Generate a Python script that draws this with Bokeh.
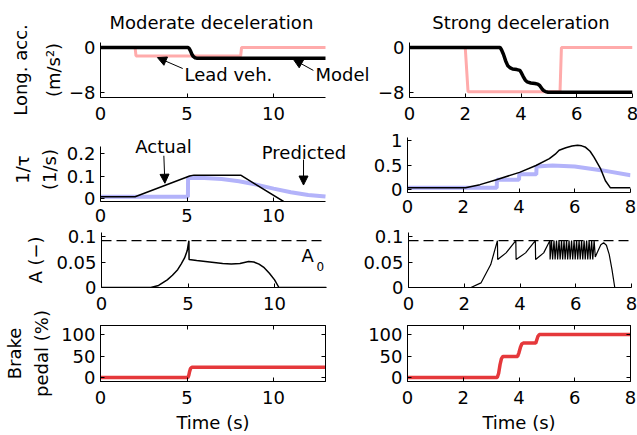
from bokeh.plotting import figure
from bokeh.layouts import column, row
from bokeh.models import (Range1d, FixedTicker, LinearAxis, Label, Arrow,
                          NormalHead, Span, CustomJSTickFormatter)
from bokeh.embed import file_html
from bokeh.resources import INLINE

# ---------------- data ----------------
col_titles = ["Moderate deceleration", "Strong deceleration"]

# Row 1: longitudinal acceleration (m/s^2)
t_lead_mod = [0, 2.0, 2.05, 8.1, 8.15, 13]
acc_lead_mod = [0, 0, -1.5, -1.5, 0, 0]
t_model_mod = [0, 5.05, 5.12, 5.2, 5.28, 5.36, 5.45, 5.55, 13]
acc_model_mod = [0, 0, -0.15, -0.6, -1.2, -1.6, -1.82, -1.9, -1.9]

t_lead_str = [0, 2.0, 2.1, 5.4, 5.45, 8]
acc_lead_str = [0, 0, -7.9, -7.9, 0, 0]
t_model_str = [0, 3.25, 3.3, 3.37, 3.45, 3.52, 3.6, 3.7, 3.85, 3.96, 4.02,
               4.08, 4.15, 4.22, 4.35, 4.5, 4.6, 4.67, 4.74, 4.8, 4.88, 4.97, 8]
acc_model_str = [0, 0, -0.4, -1.2, -2.4, -3.2, -3.6, -3.85, -3.95, -4.1, -4.6,
                 -5.2, -5.8, -6.15, -6.35, -6.45, -6.55, -6.8, -7.3, -7.65, -7.9, -8.0, -8.0]

# Row 2: 1/tau (1/s)
t_act_mod = [0, 2.0, 5.15, 5.4, 8.1, 10.6]
inv_tau_act_mod = [0.008, 0.008, 0.1, 0.104, 0.104, -0.014]
t_pred_mod = [0, 5.05, 5.06, 6.0, 7.0, 8.0, 9.0, 10.0, 11.0, 12.0, 13.0]
inv_tau_pred_mod = [0.008, 0.008, 0.092, 0.091, 0.087, 0.077, 0.062, 0.044, 0.028, 0.016, 0.009]

t_act_str = [0, 2.08, 2.6, 3.19, 4.02, 4.61, 5.09, 5.3, 5.44, 5.68, 5.9, 6.1,
             6.25, 6.39, 6.55, 6.69, 6.93, 7.1, 7.28, 8]
inv_tau_act_str = [0.035, 0.035, 0.1, 0.2, 0.35, 0.49, 0.63, 0.72, 0.8, 0.85, 0.885, 0.9,
                   0.89, 0.86, 0.78, 0.66, 0.42, 0.18, 0.035, 0.035]
t_pred_str = [0, 3.2, 3.21, 4.0, 4.01, 4.62, 4.63, 5.2, 6.0, 7.0, 8.0]
inv_tau_pred_str = [0.035, 0.035, 0.2, 0.2, 0.31, 0.31, 0.47, 0.49, 0.47, 0.39, 0.29]

# Row 3: A (-)
A0 = 0.092
t_A_mod = [0, 2.85, 3.3, 3.8, 4.1, 4.4, 4.6, 4.8, 4.95, 5.05, 5.06, 5.5, 6.0, 6.5,
           7.0, 7.5, 8.0, 8.5, 8.8, 9.1, 9.4, 9.7, 10.0, 10.25, 13]
A_mod = [0, 0, 0.004, 0.015, 0.024, 0.035, 0.046, 0.058, 0.072, 0.092, 0.055, 0.053,
         0.051, 0.049, 0.047, 0.046, 0.047, 0.051, 0.050, 0.046, 0.039, 0.028, 0.015, 0, 0]

t_A_str = [0, 2.24, 2.6, 2.95, 3.19, 3.2, 3.5, 3.85, 3.86, 4.2, 4.55, 4.56, 4.85, 5.07,
           5.08, 5.13, 5.17, 5.22, 5.26, 5.31, 5.35, 5.40, 5.44, 5.49, 5.53, 5.58,
           5.62, 5.67, 5.71, 5.76, 5.80, 5.85, 5.89, 5.94, 5.98, 6.03, 6.07, 6.12,
           6.16, 6.21, 6.25, 6.30, 6.34, 6.39, 6.43, 6.48, 6.52, 6.57, 6.61, 6.66,
           6.70, 6.8, 6.9, 7.0, 7.1, 7.2, 7.3, 7.4, 8]
A_str = [0, 0, 0.009, 0.045, 0.092, 0.055, 0.068, 0.092, 0.055, 0.068, 0.092, 0.055, 0.068, 0.092,
         0.055, 0.092, 0.055, 0.092, 0.055, 0.092, 0.055, 0.092, 0.055, 0.092, 0.055, 0.092,
         0.055, 0.092, 0.055, 0.092, 0.055, 0.092, 0.055, 0.092, 0.055, 0.092, 0.055, 0.092,
         0.055, 0.092, 0.055, 0.092, 0.055, 0.092, 0.055, 0.092, 0.055, 0.092, 0.055, 0.092,
         0.06, 0.072, 0.084, 0.088, 0.083, 0.065, 0.035, 0, 0]

# Row 4: brake pedal (%)
t_brake_mod = [0, 5.05, 5.1, 5.15, 5.2, 5.28, 13]
brake_mod = [0, 0, 5, 14, 21, 24, 24]
t_brake_str = [0, 3.22, 3.27, 3.32, 3.37, 3.42, 3.95, 4.0, 4.05, 4.1, 4.15, 4.6, 4.64,
               4.68, 4.73, 8]
brake_str = [0, 0, 10, 30, 44, 49, 49, 58, 70, 78, 80, 80, 88, 96, 100, 100]

# ticks
x_ticks_mod = [0, 5, 10]
x_labels_mod = ["0", "5", "10"]
x_ticks_str = [0, 2, 4, 6, 8]
x_labels_str = ["0", "2", "4", "6", "8"]
acc_ticks = [-8, 0]
acc_labels = ["\u22128", "0"]
tau_ticks_mod = [0, 0.1, 0.2]
tau_labels_mod = ["0", "0.1", "0.2"]
tau_ticks_str = [0, 0.5, 1]
tau_labels_str = ["0", "0.5", "1"]
A_ticks = [0, 0.05, 0.1]
A_labels = ["0", "0.05", "0.1"]
brake_ticks = [0, 50, 100]
brake_labels = ["0", "50", "100"]

# ---------------- styling ----------------
FONT = "DejaVu Sans"
FS = "18px"
PINK = "#ffabab"
LAVENDER = "#b3b3fa"
RED = "#e5383b"

XMAX_MOD, XMAX_STR = 13, 8
FW1 = 225                  # visible axis length (px), left column
FW2 = 223                  # right column
PX_MOD = FW1 / XMAX_MOD    # px per second, left column


def style_axis(ax, ticks, labels, standoff):
    ax.ticker = FixedTicker(ticks=ticks)
    ax.major_label_overrides = dict(zip(ticks, labels))
    ax.axis_line_color = "black"
    ax.axis_line_width = 1
    ax.major_tick_line_color = "black"
    ax.major_tick_in = 4
    ax.major_tick_out = 0
    ax.minor_tick_line_color = None
    ax.major_label_text_font = FONT
    ax.major_label_text_font_size = FS
    ax.major_label_text_color = "black"
    ax.major_label_standoff = standoff
    ax.axis_label_text_font = FONT
    ax.axis_label_text_font_size = FS
    ax.axis_label_text_font_style = "normal"
    ax.axis_label_text_color = "black"
    ax.axis_label_standoff = 5


def make_fig(xr, yr, fw, fh, bl, br, bt, bb, xt, xl, yt, yl, xstand=9,
             ylabel=None, xlabel=None, title=None, box=False, xbounds=None, ybounds=None):
    p = figure(x_range=Range1d(*xr), y_range=Range1d(*yr),
               frame_width=fw, frame_height=fh,
               min_border_left=bl, min_border_right=br,
               min_border_top=bt, min_border_bottom=bb,
               output_backend="svg", toolbar_location=None, tools="")
    p.background_fill_color = "white"
    p.border_fill_color = "white"
    p.xgrid.visible = False
    p.ygrid.visible = False
    p.outline_line_color = "black" if box else None
    style_axis(p.xaxis[0], xt, xl, xstand)
    style_axis(p.yaxis[0], yt, yl, 5)
    if xbounds:
        p.xaxis[0].bounds = xbounds
    if ybounds:
        p.yaxis[0].bounds = ybounds
    if ylabel:
        p.yaxis[0].axis_label = ylabel
    if xlabel:
        p.xaxis[0].axis_label = xlabel
    if title:
        p.title.text = title
        p.title.text_font = FONT
        p.title.text_font_size = FS
        p.title.text_font_style = "normal"
        p.title.text_color = "black"
        p.title.standoff = 19
    if box:
        blank = CustomJSTickFormatter(code="return ''")
        for loc, t in (("above", xt), ("right", yt)):
            a = LinearAxis(ticker=FixedTicker(ticks=t), formatter=blank,
                           axis_line_color="black", major_tick_in=4, major_tick_out=0,
                           major_tick_line_color="black", minor_tick_line_color=None,
                           major_label_standoff=0, major_label_text_font_size="1px")
            p.add_layout(a, loc)
    return p


def label(p, x, y, text, size=FS, align="left", angle=0):
    p.add_layout(Label(x=x, y=y, text=text, text_font=FONT, text_font_size=size,
                       text_color="black", text_baseline="middle", text_align=align,
                       angle=angle, angle_units="deg"))


def arrow(p, x0, y0, x1, y1):
    p.add_layout(Arrow(end=NormalHead(size=9, fill_color="black", line_color="black"),
                       x_start=x0, y_start=y0, x_end=x1, y_end=y1,
                       line_color="black", line_width=1))


# ---------------- Row 1 ----------------
EXT1 = 49   # extra frame room on the right for the "Model" text
YR1 = (-8.95, 0.9)
p11 = make_fig((0, XMAX_MOD + EXT1 / PX_MOD), YR1, FW1 + EXT1, 55, 100, 0, 42, 31,
               x_ticks_mod, x_labels_mod, acc_ticks, acc_labels,
               ylabel="Long. acc.\n(m/s\u00b2)", title=col_titles[0], xbounds=(0, XMAX_MOD))
p11.title.align = "left"
p11.title.offset = 9
p11.yaxis[0].axis_label_text_line_height = 1.55
p11.yaxis[0].axis_label_standoff = 2
p11.line(t_lead_mod, acc_lead_mod, line_color=PINK, line_width=3)
p11.line(t_model_mod, acc_model_mod, line_color="black", line_width=3.5)
arrow(p11, 4.75, -3.76, 3.29, -1.8)
label(p11, 4.85, -4.8, "Lead veh.")
arrow(p11, 12.3, -4.1, 11.15, -2.15)
label(p11, 12.42, -4.8, "Model")

p12 = make_fig((0, XMAX_STR), YR1, FW2, 55, 33, 7, 42, 31, x_ticks_str, x_labels_str,
               acc_ticks, acc_labels, title=col_titles[1])
p12.title.align = "center"
p12.line(t_lead_str, acc_lead_str, line_color=PINK, line_width=3)
p12.line(t_model_str, acc_model_str, line_color="black", line_width=3.5)

# ---------------- Row 2 ----------------
EXT2 = 25   # extra frame room on the right for "Predicted"
UP2 = 9     # extra frame room on top for "Actual"
Y0_2, Y1_2 = -0.013, 0.231
p21 = make_fig((0, XMAX_MOD + EXT2 / PX_MOD), (Y0_2, Y1_2 + UP2 * (Y1_2 - Y0_2) / 55),
               FW1 + EXT2, 55 + UP2, 100, 0, 0, 32, x_ticks_mod, x_labels_mod,
               tau_ticks_mod, tau_labels_mod, xstand=7, ylabel="1/\u03c4\n(1/s)",
               xbounds=(0, XMAX_MOD), ybounds=(Y0_2, Y1_2))
p21.yaxis[0].axis_label_text_line_height = 1.3
p21.yaxis[0].axis_label_standoff = 4
p21.line(t_pred_mod, inv_tau_pred_mod, line_color=LAVENDER, line_width=4)
p21.line(t_act_mod, inv_tau_act_mod, line_color="black", line_width=1.5)
label(p21, 3.64, 0.233, "Actual", align="center")
arrow(p21, 3.66, 0.19, 3.72, 0.068)
label(p21, 11.76, 0.204, "Predicted", align="center")
arrow(p21, 11.73, 0.173, 11.73, 0.06)

p22 = make_fig((0, XMAX_STR), (-0.06, 1.06), FW2, 55, 57, 7, 9, 32, x_ticks_str, x_labels_str,
               tau_ticks_str, tau_labels_str, xstand=7)
p22.line(t_pred_str, inv_tau_pred_str, line_color=LAVENDER, line_width=4)
p22.line(t_act_str, inv_tau_act_str, line_color="black", line_width=1.5)

# ---------------- Row 3 ----------------
YR3 = (0, 0.108)
p31 = make_fig((0, XMAX_MOD), YR3, FW1, 55, 47, 10, 8, 32, x_ticks_mod, x_labels_mod,
               A_ticks, A_labels)
p31.add_layout(Span(location=A0, dimension="width", line_color="black",
                    line_width=1.2, line_dash="10 5"))
p31.line(t_A_mod, A_mod, line_color="black", line_width=1.5)
label(p31, 11.55, 0.062, "A")
label(p31, 12.42, 0.0415, "0", size="12px")

p32 = make_fig((0, XMAX_STR), YR3, FW2, 55, 72, 7, 8, 32, x_ticks_str, x_labels_str,
               A_ticks, A_labels)
p32.add_layout(Span(location=A0, dimension="width", line_color="black",
                    line_width=1.2, line_dash="10 5"))
p32.line(t_A_str, A_str, line_color="black", line_width=1.2)

# ---------------- Row 4 ----------------
p41 = make_fig((0, XMAX_MOD), (-9.3, 121), FW1, 56, 47, 10, 6, 54, x_ticks_mod, x_labels_mod,
               brake_ticks, brake_labels, xlabel="Time (s)", box=True)
p41.line(t_brake_mod, brake_mod, line_color=RED, line_width=3.5)

p42 = make_fig((0, XMAX_STR), (-9.3, 121), FW2, 56, 72, 7, 6, 54, x_ticks_str, x_labels_str,
               brake_ticks, brake_labels, xlabel="Time (s)", box=True)
p42.line(t_brake_str, brake_str, line_color=RED, line_width=3.5)

# y-axis titles of rows 3-4 (share one strip so the long title is not cut)
LW, LH = 53, 211
lab = figure(width=LW, height=LH, x_range=Range1d(0, LW), y_range=Range1d(0, LH),
             min_border_left=0, min_border_right=0, min_border_top=0, min_border_bottom=0,
             x_axis_type=None, y_axis_type=None, output_backend="svg",
             toolbar_location=None, tools="")
lab.outline_line_color = None
lab.xgrid.visible = False
lab.ygrid.visible = False
label(lab, 35, LH - 35.5, "A (\u2212)", align="center", angle=90)
label(lab, 14, LH - 129, "Brake", align="center", angle=90)
label(lab, 41, LH - 129, "pedal (%)", align="center", angle=90)

layout = column(row(p11, p12), row(p21, p22),
                row(lab, column(row(p31, p32), row(p41, p42))))

with open("out.html", "w") as f:
    f.write(file_html(layout, INLINE))
